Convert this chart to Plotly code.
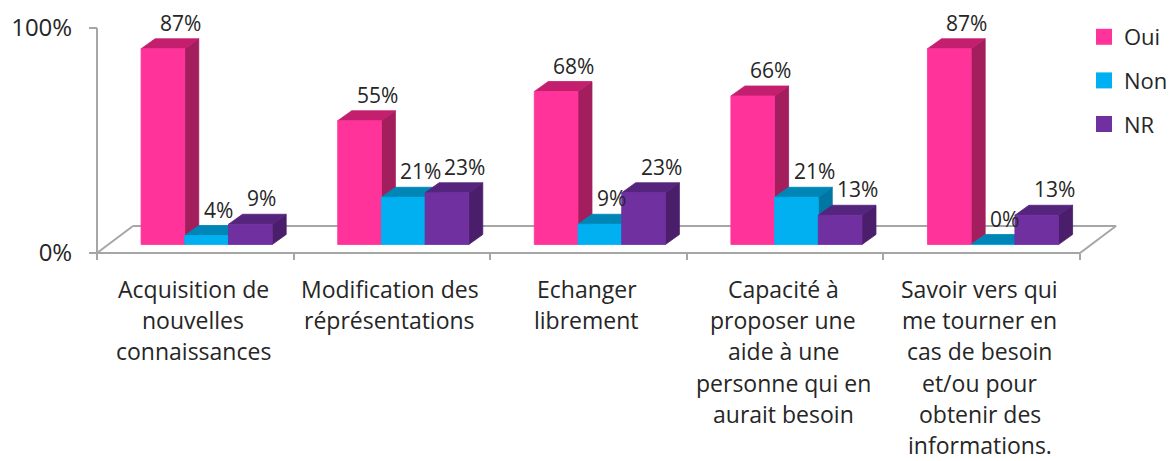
import plotly.graph_objects as go

# ---------------- data ----------------
categories = [
    "Acquisition de<br>nouvelles<br>connaissances",
    "Modification des<br>réprésentations",
    "Echanger<br>librement",
    "Capacité à<br>proposer une<br>aide à une<br>personne qui en<br>aurait besoin",
    "Savoir vers qui<br>me tourner en<br>cas de besoin<br>et/ou pour<br>obtenir des<br>informations.",
]
series_names = ["Oui", "Non", "NR"]
oui = [87, 55, 68, 66, 87]
non = [4, 21, 9, 21, 0]
nr = [9, 23, 23, 13, 13]
y_tick_vals = [0, 1]
y_tick_text = ["0%", "100%"]

# ---------------- styling ----------------
W, H = 1174, 461
X0PX, CATPX = 97.0, 196.6      # pixel of category boundary -0.5, pixels per category
Y0PX, YPX = 253.0, 225.0       # pixel of 0%, pixels per 100%
FONT = "Open Sans"
TXT = "#262626"
GRID = "#A6A6A6"

front_cols = ["#FF3399", "#00B0F0", "#7030A0"]
top_cols = ["#C41F6E", "#0086B6", "#55247C"]
side_cols = ["#A21E5D", "#0077A2", "#4A1E6B"]

x_range = [-0.5 - X0PX / CATPX, -0.5 + (W - X0PX) / CATPX]
y_range = [-(H - Y0PX) / YPX, Y0PX / YPX]

# depth geometry (data units)
floor_dx, floor_dy = 36 / CATPX, 27 / YPX
frac = 8.5 / 27.0
bar_fx, bar_fy = floor_dx * frac, floor_dy * frac
ddx, ddy = 14 / CATPX, 10 / YPX
bw = 43.7 / CATPX
label_dx = 17 / CATPX

fig = go.Figure()

# floor outline
n = len(categories)
fx = [-0.5 + floor_dx, -0.5, n - 0.5, n - 0.5 + floor_dx, -0.5 + floor_dx]
fy = [floor_dy, 0, 0, floor_dy, floor_dy]
fig.add_trace(go.Scatter(x=fx, y=fy, mode="lines", line=dict(color=GRID, width=2),
                         hoverinfo="skip", showlegend=False))
# vertical axis line
fig.add_trace(go.Scatter(x=[-0.5, -0.5], y=[0, 1], mode="lines", line=dict(color=GRID, width=2),
                         hoverinfo="skip", showlegend=False))

values = [oui, non, nr]
annotations = []
for k, vals in enumerate(values):
    fxs, fys, txs, tys, sxs, sys_ = [], [], [], [], [], []
    for i, v in enumerate(vals):
        val = v / 100.0
        x0 = i - 1.5 * bw + k * bw + bar_fx
        x1 = x0 + bw
        yb = bar_fy
        yt = yb + val
        fxs += [x0, x1, x1, x0, x0, None]
        fys += [yb, yb, yt, yt, yb, None]
        txs += [x0, x1, x1 + ddx, x0 + ddx, x0, None]
        tys += [yt, yt, yt + ddy, yt + ddy, yt, None]
        sxs += [x1, x1 + ddx, x1 + ddx, x1, x1, None]
        sys_ += [yb, yb + ddy, yt + ddy, yt, yb, None]
        annotations.append(dict(x=x0 + label_dx, y=yt + ddy, xref="x", yref="y",
                                text=f"{v}%", showarrow=False, yanchor="bottom", xanchor="left",
                                font=dict(family=FONT, size=21, color=TXT)))
    for xs, ys, col in [(sxs, sys_, side_cols[k]), (txs, tys, top_cols[k]), (fxs, fys, front_cols[k])]:
        fig.add_trace(go.Scatter(x=xs, y=ys, mode="lines", fill="toself", fillcolor=col,
                                 line=dict(color=col, width=0.8), hoverinfo="skip",
                                 showlegend=False))

# legend entries
for k, name in enumerate(series_names):
    fig.add_trace(go.Scatter(x=[None], y=[None], mode="markers", name=name,
                             legendgroup=name,
                             marker=dict(symbol="square", size=16, color=front_cols[k])))

# category labels (one annotation per line for Excel-like line spacing)
LINE_PX = 31.2
for i, lab in enumerate(categories):
    for j, line in enumerate(lab.split("<br>")):
        ypx = 289 + j * LINE_PX
        annotations.append(dict(x=i - 0.01, y=(Y0PX - ypx) / YPX, xref="x", yref="y",
                                text=line, showarrow=False, yanchor="middle", xanchor="center",
                                font=dict(family=FONT, size=23, color=TXT)))

fig.update_layout(
    width=W, height=H,
    margin=dict(l=0, r=0, t=0, b=0),
    paper_bgcolor="white", plot_bgcolor="white",
    annotations=annotations,
    font=dict(family=FONT, color=TXT),
    xaxis=dict(range=x_range, domain=[0, 1], anchor="free", position=(H - Y0PX) / H,
               showgrid=False, zeroline=False, showline=False, showticklabels=False,
               tickmode="array", tickvals=[i - 0.5 for i in range(n + 1)],
               ticks="outside", ticklen=6, tickwidth=2, tickcolor=GRID, fixedrange=True),
    yaxis=dict(range=y_range, domain=[0, 1], anchor="free", position=X0PX / W,
               showgrid=False, zeroline=False, showline=False,
               tickmode="array", tickvals=y_tick_vals, ticktext=y_tick_text,
               ticks="outside", ticklen=8, tickwidth=2, tickcolor=GRID,
               ticklabelstandoff=12,
               tickfont=dict(family=FONT, size=24, color=TXT), fixedrange=True),
    showlegend=True,
    legend=dict(x=1084 / W, y=1 - 16 / H, xanchor="left", yanchor="top",
                font=dict(family=FONT, size=22, color=TXT),
                tracegroupgap=12, itemwidth=30, bgcolor="rgba(0,0,0,0)"),
)

fig.write_html("out.html", config={"displayModeBar": False},
               post_script="document.body.style.margin='0px';document.body.style.overflow='hidden';")
